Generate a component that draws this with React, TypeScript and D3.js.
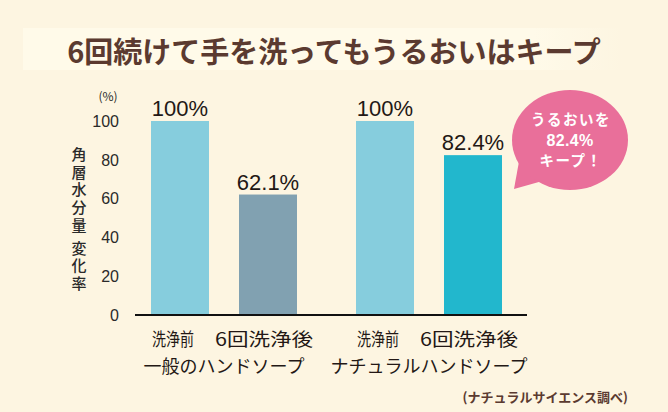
import React from "react";
import * as d3 from "d3";

const groups = ["一般のハンドソープ", "ナチュラルハンドソープ"];
const phases = ["洗浄前", "6回洗浄後"];
const values = [
  [100, 62.1],
  [100, 82.4],
];
const valueLabels = [
  ["100%", "62.1%"],
  ["100%", "82.4%"],
];
const barColors = [
  ["#86cddd", "#81a1b1"],
  ["#86cddd", "#22b7cd"],
];
const yTicks = [0, 20, 40, 60, 80, 100];
const title = "6回続けて手を洗ってもうるおいはキープ";
const yTitle = "角層水分量\u2009変化率";
const unitLabel = "(%)";
const bubbleLines = ["うるおいを", "82.4%", "キープ！"];
const footnote = "(ナチュラルサイエンス調べ)";

const W = 668;
const H = 412;
const BG = "#fdf5e1";
const BROWN = "#5b3a30";
const JP = "'Noto Sans CJK JP', 'Noto Sans', sans-serif";
const LAT = "'Liberation Sans', Arial, sans-serif";

// label typesetting (width in px, horizontal shift from bar centre)
const phaseLabelWidth = [42, 98];
const phaseLabelShift = [-7, -4];

export default function App() {
  const y = d3.scaleLinear().domain([0, 100]).range([315, 121]);
  const outer = d3
    .scaleBand<string>()
    .domain(groups)
    .range([151, 502])
    .paddingInner(59 / 205)
    .paddingOuter(0);
  const inner = d3
    .scaleBand<string>()
    .domain(phases)
    .range([0, outer.bandwidth()])
    .paddingInner(30 / 88)
    .paddingOuter(0);

  const bx = 570;
  const by = 140;
  const rx = 58;
  const ry = 50;
  const tail = d3.line()([
    [bx - 50, by + 16],
    [bx - 56, by + 49],
    [bx - 24, by + 40],
  ]) as string;

  return (
    <svg
      width={W}
      height={H}
      style={{ position: "absolute", left: 0, top: 0, background: BG }}
    >
      <rect x={0} y={0} width={W} height={H} fill={BG} />
      <defs>
        <linearGradient id="band" x1="0" x2="1" y1="0" y2="0">
          <stop offset="0" stopColor="#fffae9" stopOpacity={1} />
          <stop offset="0.85" stopColor="#fffae9" stopOpacity={1} />
          <stop offset="1" stopColor="#fffae9" stopOpacity={0} />
        </linearGradient>
      </defs>
      <rect x={23} y={28} width={600} height={42} fill="url(#band)" />
      <text
        x={W / 2}
        y={63}
        textAnchor="middle"
        fontFamily={JP}
        fontWeight={700}
        fontSize={29}
        fill={BROWN}
      >
        {title}
      </text>

      {/* y axis ticks */}
      {yTicks.map((t) => (
        <text
          key={t}
          x={119}
          y={y(t)}
          dy="0.36em"
          textAnchor="end"
          fontFamily={LAT}
          fontSize={16}
          fill="#2a2a2a"
        >
          {t}
        </text>
      ))}
      <text
        x={108}
        y={101}
        textAnchor="middle"
        fontFamily={JP}
        fontSize={12}
        fill="#2a2a2a"
      >
        {unitLabel}
      </text>
      <text
        x={79}
        y={147}
        fontFamily={JP}
        fontSize={15}
        fontWeight={500}
        fill="#2a2a2a"
        letterSpacing={2.6}
        style={{ writingMode: "vertical-rl" } as React.CSSProperties}
      >
        {yTitle}
      </text>

      {/* bars */}
      {groups.map((g, gi) =>
        phases.map((p, pi) => {
          const x0 = (outer(g) ?? 0) + (inner(p) ?? 0);
          const v = values[gi][pi];
          const cx = x0 + inner.bandwidth() / 2;
          return (
            <g key={g + p}>
              <rect
                x={x0}
                y={y(v)}
                width={inner.bandwidth()}
                height={y(0) - y(v)}
                fill={barColors[gi][pi]}
              />
              <text
                x={cx}
                y={y(v) - 5}
                textAnchor="middle"
                fontFamily={LAT}
                fontSize={22}
                fill="#231815"
              >
                {valueLabels[gi][pi]}
              </text>
              <text
                x={cx + phaseLabelShift[pi] - phaseLabelWidth[pi] / 2}
                y={346}
                fontFamily={JP}
                fontSize={18}
                textLength={phaseLabelWidth[pi]}
                lengthAdjust="spacingAndGlyphs"
                fill="#231815"
              >
                {p}
              </text>
            </g>
          );
        })
      )}
      <line x1={135} x2={527} y1={y(0)} y2={y(0)} stroke="#111" strokeWidth={2} />

      {groups.map((g) => (
        <text
          key={g}
          x={(outer(g) ?? 0) + outer.bandwidth() / 2}
          y={373}
          textAnchor="middle"
          fontFamily={JP}
          fontSize={18}
          fill="#231815"
        >
          {g}
        </text>
      ))}

      {/* bubble */}
      <path d={tail} fill="#e96f9a" />
      <ellipse cx={bx} cy={by} rx={rx} ry={ry} fill="#e96f9a" />
      {bubbleLines.map((l, i) => (
        <text
          key={i}
          x={bx + (i === 1 ? 0 : 1)}
          y={125 + i * 20.5}
          textAnchor="middle"
          fontFamily={i === 1 ? LAT : JP}
          fontWeight={700}
          fontSize={i === 1 ? 16 : 14.5}
          letterSpacing={i === 1 ? 0.3 : 1.5}
          fill="#ffffff"
        >
          {l}
        </text>
      ))}

      <text
        x={628}
        y={402}
        textAnchor="end"
        fontFamily={JP}
        fontWeight={700}
        fontSize={13}
        fill={BROWN}
      >
        {footnote}
      </text>
    </svg>
  );
}
